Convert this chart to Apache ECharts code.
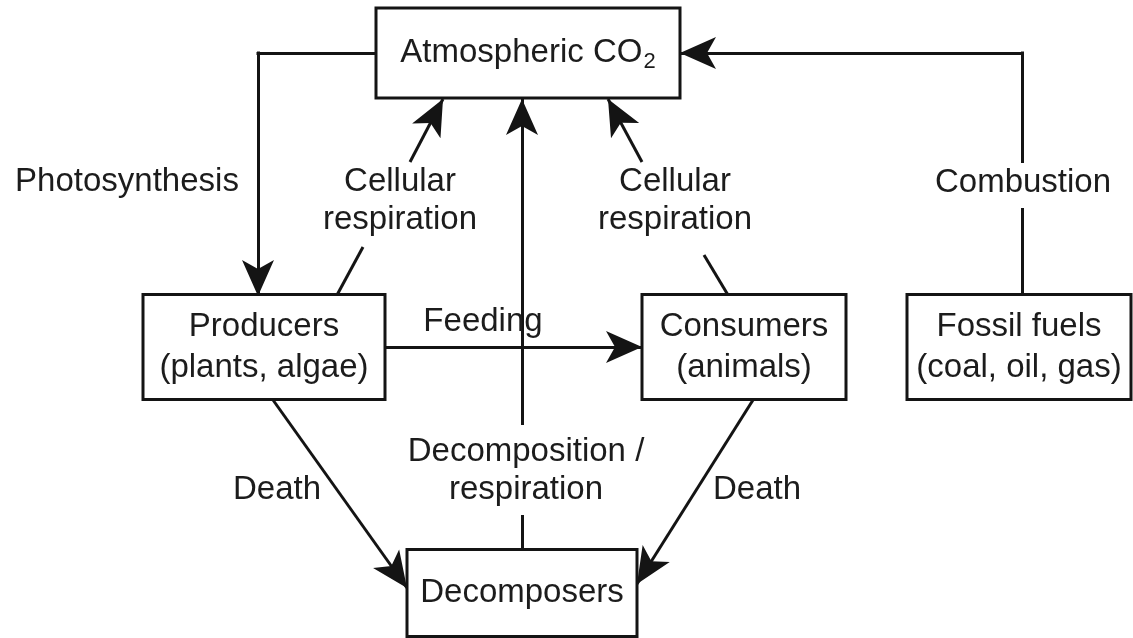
<!DOCTYPE html>
<html>
<head>
<meta charset="utf-8">
<script src="https://cdn.jsdelivr.net/npm/echarts@6/dist/echarts.min.js"></script>
<style>
html, body { margin: 0; padding: 0; background: #fff; }
#chart { width: 1133px; height: 638px; }
</style>
</head>
<body>
<div id="chart"></div>
<script>
// texts in the boxes
var boxes = ['Atmospheric CO2', 'Producers\n(plants, algae)', 'Consumers\n(animals)', 'Fossil fuels\n(coal, oil, gas)', 'Decomposers'];
// texts on the arrows
var flowLabels = ['Photosynthesis', 'Cellular\nrespiration', 'Cellular\nrespiration', 'Combustion', 'Feeding', 'Decomposition /\nrespiration', 'Death', 'Death'];

// layout, in canvas pixels (x to the right, y down)
var boxPos = [[528, 53], [264, 347], [744, 347], [1019, 347], [522, 593]];
var boxSize = [[304, 90], [242, 105], [204, 105], [224, 105], [230, 87]];
var labelPos = [[127, 182], [400, 201], [675, 201], [1023, 183], [483, 322], [526, 471], [277, 490], [757, 490]];

// connector pieces without head
var plainLinks = [
    [[376, 53], [256.5, 53]],
    [[337, 295], [363, 247]],
    [[522, 550], [522, 515]],
    [[728, 295], [704, 255]],
    [[1022, 295], [1022, 208]],
    [[1022, 163], [1022, 51.5]]
];
// connector pieces ending in an arrow head (last point = tip)
var arrowLinks = [
    [[258, 51.5], [258, 296]],
    [[410, 162], [443, 99]],
    [[522, 425], [522, 99]],
    [[642, 162], [608, 99]],
    [[1023.5, 53], [680, 53]],
    [[385, 347], [642, 347]],
    [[273, 400], [407, 588]],
    [[753, 400], [637, 584]]
];

var FONT = '"Liberation Sans", Arial, Helvetica, sans-serif';
var INK = '#141414';
var TEXT = '#1c1c1c';

var myChart = echarts.init(document.getElementById('chart'));

var option = {
    backgroundColor: '#fff',
    animation: false,
    grid: { left: 0, right: 0, top: 0, bottom: 0 },
    xAxis: { type: 'value', min: 0, max: 1133, show: false },
    yAxis: { type: 'value', min: 0, max: 638, inverse: true, show: false },
    series: [
        {
            type: 'lines',
            coordinateSystem: 'cartesian2d',
            silent: true,
            z: 2,
            symbol: 'none',
            lineStyle: { color: INK, width: 3, opacity: 1 },
            data: plainLinks.map(function (l) { return { coords: l }; })
        },
        {
            type: 'lines',
            coordinateSystem: 'cartesian2d',
            silent: true,
            z: 2,
            symbol: ['none', 'arrow'],
            symbolSize: [0, [24, 36]],
            lineStyle: { color: INK, width: 3, opacity: 1 },
            data: arrowLinks.map(function (l) { return { coords: l }; })
        },
        {
            type: 'custom',
            silent: true,
            z: 3,
            data: boxPos,
            renderItem: function (params, api) {
                var i = params.dataIndex;
                var c = api.coord([api.value(0), api.value(1)]);
                var w = boxSize[i][0], h = boxSize[i][1];
                var name = boxes[i];
                var text = i === 0 ? '{a|' + name.slice(0, -1) + '}{b|' + name.slice(-1) + '}' : name;
                return {
                    type: 'group',
                    children: [{
                        type: 'rect',
                        shape: { x: c[0] - w / 2, y: c[1] - h / 2, width: w, height: h },
                        style: { fill: '#fff', stroke: INK, lineWidth: 3 }
                    }, {
                        type: 'text',
                        x: c[0],
                        y: c[1],
                        style: {
                            text: text,
                            align: 'center',
                            verticalAlign: 'middle',
                            fill: TEXT,
                            font: '33px ' + FONT,
                            lineHeight: 41,
                            rich: {
                                a: { fontFamily: FONT, fontSize: 33, lineHeight: 40, fill: TEXT },
                                b: { fontFamily: FONT, fontSize: 22, lineHeight: 16, verticalAlign: 'bottom', fill: TEXT, padding: [0, 0, 0, 1] }
                            }
                        }
                    }]
                };
            }
        },
        {
            type: 'custom',
            silent: true,
            z: 4,
            data: labelPos,
            renderItem: function (params, api) {
                var c = api.coord([api.value(0), api.value(1)]);
                return {
                    type: 'text',
                    x: c[0],
                    y: c[1],
                    style: {
                        text: flowLabels[params.dataIndex],
                        align: 'center',
                        verticalAlign: 'middle',
                        fill: TEXT,
                        font: '33px ' + FONT,
                        lineHeight: 38
                    }
                };
            }
        }
    ]
};

myChart.setOption(option);
</script>
</body>
</html>
